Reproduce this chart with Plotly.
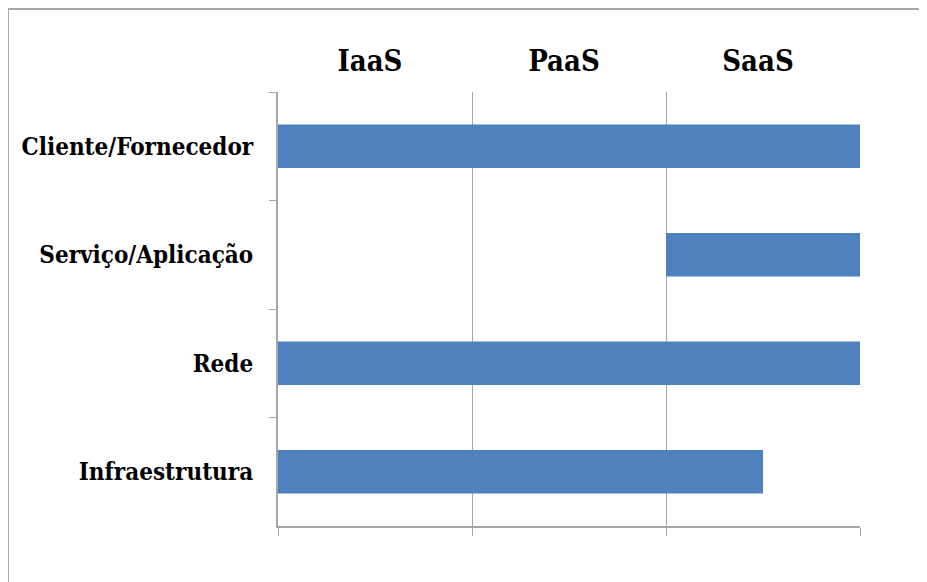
import plotly.graph_objects as go

# data
layers = ["Cliente/Fornecedor", "Serviço/Aplicação", "Rede", "Infraestrutura"]
start = [0, 2, 0, 0]
end = [3, 3, 3, 2.5]
service_models = ["IaaS", "PaaS", "SaaS"]
model_positions = [0.5, 1.5, 2.5]
grid_ticks = [0, 1, 2, 3]

BAR_BLUE = "#4F81BD"
AXIS_GRAY = "#A6A6A6"
SERIF = "DejaVu Serif Condensed"

lengths = [e - s for s, e in zip(start, end)]

fig = go.Figure()

fig.add_trace(go.Bar(
    y=layers,
    x=lengths,
    base=start,
    orientation="h",
    width=0.4,
    marker=dict(color=BAR_BLUE, line=dict(width=0)),
    hovertemplate="%{y}: %{base} - %{x}<extra></extra>",
))

# empty trace so the top axis (service models) gets drawn
fig.add_trace(go.Scatter(x=[], y=[], xaxis="x2", yaxis="y",
                         showlegend=False, hoverinfo="skip"))

# the page body adds 8px, so margins are trimmed to keep the plot where it is
fig.update_layout(
    width=927,
    height=582,
    paper_bgcolor="white",
    plot_bgcolor="white",
    showlegend=False,
    margin=dict(l=270, r=75, t=84, b=64),
    xaxis=dict(
        range=[0, 3],
        tickvals=grid_ticks,
        showticklabels=False,
        ticks="outside",
        ticklen=8,
        tickcolor=AXIS_GRAY,
        showgrid=True,
        gridcolor=AXIS_GRAY,
        gridwidth=1,
        showline=True,
        linecolor=AXIS_GRAY,
        linewidth=2,
        zeroline=False,
        fixedrange=True,
    ),
    xaxis2=dict(
        overlaying="x",
        side="top",
        anchor="y",
        range=[0, 3],
        tickvals=model_positions,
        ticktext=service_models,
        ticks="",
        showgrid=False,
        showline=False,
        zeroline=False,
        automargin=False,
        ticklabelstandoff=14,
        ticklabelshift=-5,
        tickfont=dict(family=SERIF, size=29, color="black", weight="bold"),
    ),
    yaxis=dict(
        type="category",
        categoryorder="array",
        categoryarray=layers,
        autorange="reversed",
        tickson="boundaries",
        ticks="outside",
        ticklen=7,
        tickcolor=AXIS_GRAY,
        showgrid=False,
        showline=True,
        linecolor=AXIS_GRAY,
        linewidth=2,
        zeroline=False,
        automargin=False,
        ticklabelstandoff=18,
        tickfont=dict(family=SERIF, size=24, color="black", weight="bold"),
    ),
    shapes=[dict(
        type="rect",
        xref="paper", yref="paper",
        x0=-0.464, x1=1.5, y0=-0.5, y1=1.191,
        line=dict(color=AXIS_GRAY, width=2),
        layer="below",
    )],
)

fig.write_html("out.html")
